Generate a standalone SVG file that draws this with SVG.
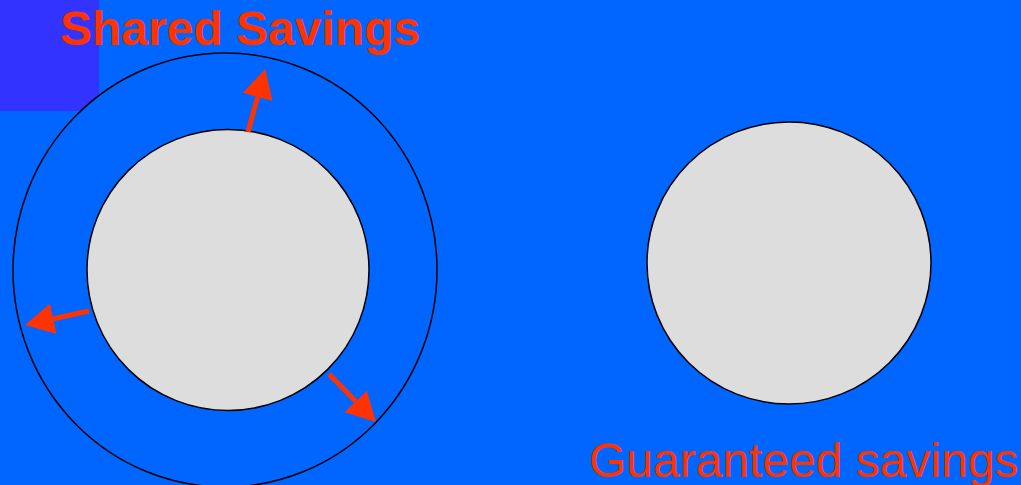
<svg xmlns="http://www.w3.org/2000/svg" width="1021" height="485" viewBox="0 0 1021 485">
<style>
.circ{fill:#DDDDDD;stroke:#000;stroke-width:1.5}
.ring{fill:#0066FF;stroke:#000;stroke-width:1.5}
.arr{stroke:#FF3300;stroke-width:5;fill:none}
.title{font-family:"Liberation Sans",Arial,sans-serif;font-size:48px;font-weight:bold;fill:#FF3300}
.label{font-family:"Liberation Sans",Arial,sans-serif;font-size:48px;fill:#FF3300}
</style>
<defs>
<marker id="head" markerUnits="userSpaceOnUse" markerWidth="30" markerHeight="32" viewBox="0 -16 30 32" refX="0" refY="0" orient="auto">
<path d="M0,-15.5 L29,0 L0,15.5 Z" fill="#FF3300"/>
</marker>
</defs>
<rect x="0" y="0" width="1021" height="485" fill="#0066FF"/>
<rect x="0" y="0" width="99" height="111" fill="#3333FF"/>
<g id="shared-outer"><ellipse class="ring" cx="225" cy="270" rx="212" ry="217"/></g>
<g id="shared-inner"><ellipse class="circ" cx="228" cy="270" rx="141" ry="140.5"/></g>
<g id="guaranteed"><ellipse class="circ" cx="789" cy="263" rx="142" ry="141"/></g>
<g id="connectors">
<line class="arr" x1="248" y1="132" x2="257.6" y2="97" marker-end="url(#head)"/>
<line class="arr" x1="89" y1="311" x2="53.3" y2="318.8" marker-end="url(#head)"/>
<line class="arr" x1="329" y1="374" x2="355.7" y2="401.3" marker-end="url(#head)"/>
</g>
<text class="title" x="60" y="45">Shared Savings</text>
<text class="label" x="589" y="477">Guaranteed savings</text>
</svg>
